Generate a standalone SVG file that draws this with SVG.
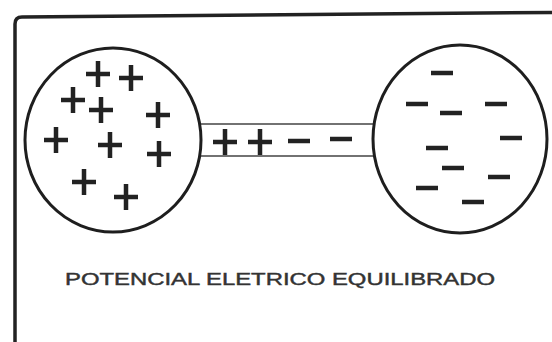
<svg xmlns="http://www.w3.org/2000/svg" width="552" height="342" viewBox="0 0 552 342">
<defs>
<style>
.frame{fill:none;stroke:#222;stroke-width:3.5}
.sphere{fill:#fff;stroke:#1e1e1e;stroke-width:3}
.tube{fill:none;stroke:#444;stroke-width:1.5}
.ch{stroke:#222;stroke-width:4.5;stroke-linecap:butt;fill:none}
.lbl{font-family:"Liberation Sans",Arial,sans-serif;font-size:16px;fill:#333;stroke:#333;stroke-width:0.4}
</style>
<path id="plus" d="M-12 0H12M0 -13V13"/>
<path id="minus" d="M-11 0H11"/>
</defs>
<rect width="552" height="342" fill="#fff"/>
<path class="frame" d="M15 345V24Q15 17 22 17L552 12.5"/>
<g id="connectors">
<path class="tube" d="M200 124H376M200 156H376"/>
</g>
<g id="tube-charges">
<use href="#plus" class="ch" x="225" y="142"/>
<use href="#plus" class="ch" x="260" y="142"/>
<use href="#minus" class="ch" x="299" y="141"/>
<use href="#minus" class="ch" x="341" y="139"/>
</g>
<g id="left-sphere">
<ellipse class="sphere" cx="113" cy="140" rx="88" ry="92"/>
<use href="#plus" class="ch" x="98" y="74"/>
<use href="#plus" class="ch" x="131" y="78"/>
<use href="#plus" class="ch" x="73" y="100"/>
<use href="#plus" class="ch" x="101" y="110"/>
<use href="#plus" class="ch" x="158" y="115"/>
<use href="#plus" class="ch" x="56" y="140"/>
<use href="#plus" class="ch" x="110" y="145"/>
<use href="#plus" class="ch" x="159" y="154"/>
<use href="#plus" class="ch" x="84" y="182"/>
<use href="#plus" class="ch" x="126" y="197"/>
</g>
<g id="right-sphere">
<ellipse class="sphere" cx="460" cy="139" rx="87" ry="94"/>
<use href="#minus" class="ch" x="442" y="73"/>
<use href="#minus" class="ch" x="417" y="104"/>
<use href="#minus" class="ch" x="451" y="113"/>
<use href="#minus" class="ch" x="496" y="104"/>
<use href="#minus" class="ch" x="511" y="138"/>
<use href="#minus" class="ch" x="437" y="148"/>
<use href="#minus" class="ch" x="453" y="168"/>
<use href="#minus" class="ch" x="499" y="177"/>
<use href="#minus" class="ch" x="427" y="188"/>
<use href="#minus" class="ch" x="473" y="202"/>
</g>
<g id="caption">
<text class="lbl" x="65" y="285" textLength="430" lengthAdjust="spacingAndGlyphs">POTENCIAL ELETRICO EQUILIBRADO</text>
</g>
</svg>
